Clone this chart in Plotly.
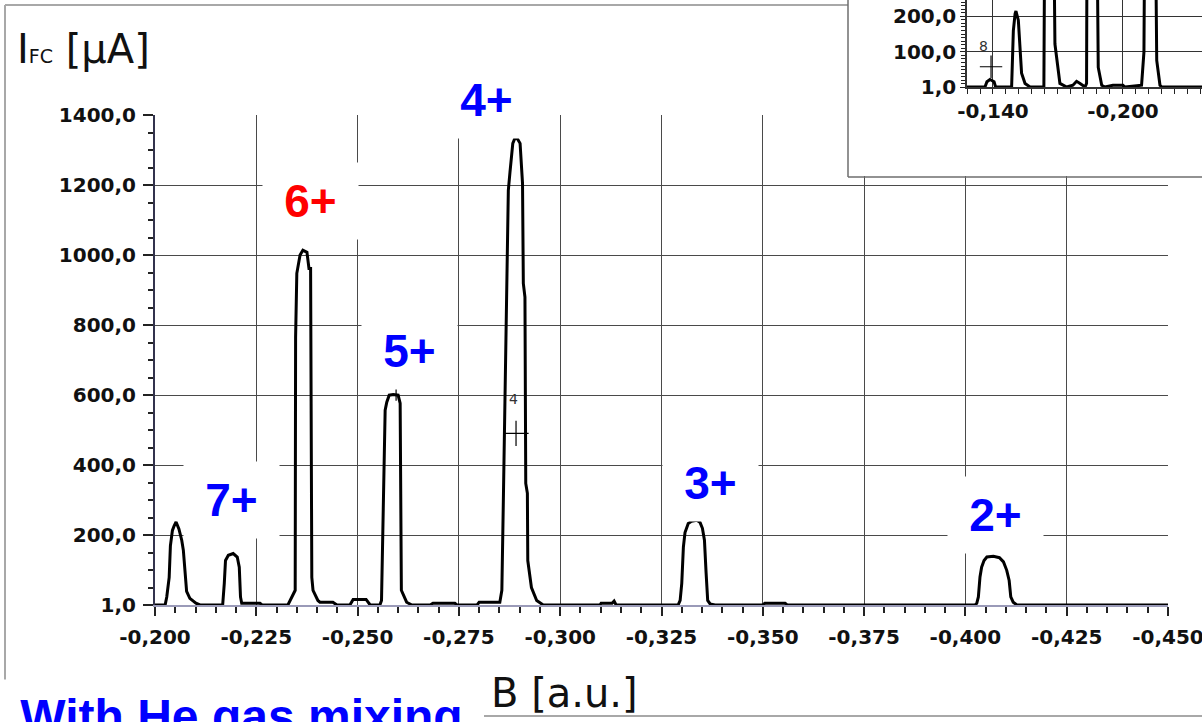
import plotly.graph_objects as go

W, H = 1202, 722

# ---------------- data: main spectrum (with He gas mixing) ----------------
B_main = [-0.2000, -0.2025, -0.2029, -0.2035, -0.2038, -0.2043, -0.2047, -0.2052, -0.2059, -0.2066,
          -0.2070, -0.2073, -0.2078, -0.2086, -0.2101, -0.2111, -0.2167, -0.2171, -0.2174, -0.2181,
          -0.2193, -0.2203, -0.2208, -0.2211, -0.2214, -0.2259, -0.2264, -0.2328, -0.2338, -0.2346,
          -0.2347, -0.2350, -0.2358, -0.2365, -0.2375, -0.2380, -0.2384, -0.2385, -0.2387, -0.2390,
          -0.2402, -0.2407, -0.2439, -0.2449, -0.2481, -0.2489, -0.2521, -0.2531, -0.2555, -0.2559,
          -0.2561, -0.2564, -0.2568, -0.2572, -0.2578, -0.2588, -0.2600, -0.2605, -0.2606, -0.2607,
          -0.2608, -0.2621, -0.2634, -0.2679, -0.2686, -0.2740, -0.2745, -0.2795, -0.2800, -0.2851,
          -0.2856, -0.2860, -0.2864, -0.2868, -0.2872, -0.2876, -0.2883, -0.2888, -0.2894, -0.2901,
          -0.2907, -0.2909, -0.2913, -0.2915, -0.2919, -0.2920, -0.2929, -0.2942, -0.2958, -0.3098,
          -0.3101, -0.3128, -0.3133, -0.3138, -0.3291, -0.3296, -0.3300, -0.3304, -0.3308, -0.3316,
          -0.3324, -0.3337, -0.3345, -0.3351, -0.3356, -0.3360, -0.3364, -0.3370, -0.3382, -0.3500,
          -0.3505, -0.3555, -0.3560, -0.4024, -0.4028, -0.4032, -0.4036, -0.4040, -0.4046, -0.4053,
          -0.4069, -0.4084, -0.4094, -0.4102, -0.4108, -0.4112, -0.4118, -0.4127, -0.4500]
I_main = [1, 1, 24, 80, 170, 214, 226, 238, 218, 186,
          157, 100, 40, 20, 6, 1, 1, 63, 128, 143,
          148, 138, 109, 24, 6, 6, 1, 1, 23, 43,
          765, 948, 1000, 1014, 1008, 962, 962, 451, 80, 43,
          14, 9, 9, 1, 1, 17, 17, 1, 1, 14,
          157, 300, 557, 580, 600, 602, 600, 577, 291, 285,
          43, 9, 1, 1, 6, 6, 1, 1, 9, 9,
          43, 320, 605, 891, 1185, 1236, 1319, 1333, 1333, 1319,
          1205, 919, 880, 348, 320, 128, 51, 14, 1, 1,
          6, 6, 12, 1, 1, 14, 63, 166, 208, 234,
          240, 243, 237, 220, 186, 94, 14, 4, 1, 1,
          6, 6, 1, 1, 6, 24, 81, 109, 128, 138,
          140, 136, 124, 100, 71, 24, 9, 1, 1]

# ---------------- data: inset spectrum ----------------
B_inset = [-0.1280, -0.1363, -0.1372, -0.1386, -0.1405, -0.1412, -0.1486, -0.1494, -0.1502, -0.1506,
           -0.1517, -0.1525, -0.1532, -0.1548, -0.1571, -0.1635, -0.1640, -0.1678, -0.1686, -0.1709,
           -0.1740, -0.1769, -0.1786, -0.1802, -0.1825, -0.1832, -0.1835, -0.1878, -0.1886, -0.1902,
           -0.1917, -0.1954, -0.2000, -0.2009, -0.2086, -0.2097, -0.2102, -0.2148, -0.2156, -0.2171,
           -0.2179, -0.2365]
I_inset = [1, 1, 16, 22, 16, 1, 1, 160, 207, 215,
           189, 96, 40, 11, 1, 1, 600, 600, 122, 11,
           1, 6, 17, 11, 1, 11, 600, 600, 56, 6,
           1, 6, 6, 1, 6, 100, 600, 600, 76, 6,
           1, 1]

# cursor markers
cursor_B = [-0.2595, -0.2891]
cursor_I = [620, 491]
inset_cursor_B = [-0.1391]
inset_cursor_I = [58]

# ticks
x_tick_vals = [-0.200, -0.225, -0.250, -0.275, -0.300, -0.325, -0.350, -0.375, -0.400, -0.425, -0.450]
x_tick_text = ["-0,200", "-0,225", "-0,250", "-0,275", "-0,300", "-0,325", "-0,350", "-0,375",
               "-0,400", "-0,425", "-0,450"]
y_tick_vals = [1, 200, 400, 600, 800, 1000, 1200, 1400]
y_tick_text = ["1,0", "200,0", "400,0", "600,0", "800,0", "1000,0", "1200,0", "1400,0"]
inset_x_tick_vals = [-0.140, -0.200]
inset_x_tick_text = ["-0,140", "-0,200"]
inset_y_tick_vals = [1, 100, 200]
inset_y_tick_text = ["1,0", "100,0", "200,0"]

ion_labels = ["7+", "6+", "5+", "4+", "3+", "2+"]
ion_colors = ["#0000ff", "#ff0000", "#0000ff", "#0000ff", "#0000ff", "#0000ff"]
ion_label_centers_px = [(231, 500), (310, 201), (410, 351), (487, 100), (710, 483), (995, 515)]


def px(x):
    return x / W


def py(y):
    return 1 - y / H


fig = go.Figure()
fig.add_trace(go.Scatter(x=B_main, y=I_main, mode="lines", line=dict(color="black", width=3),
                         xaxis="x", yaxis="y", showlegend=False, hoverinfo="skip"))
fig.add_trace(go.Scatter(x=cursor_B, y=cursor_I, mode="markers",
                         marker=dict(symbol="cross-thin", size=18, line=dict(color="black", width=1.2)),
                         xaxis="x", yaxis="y", showlegend=False, hoverinfo="skip"))
# empty trace creating the white panel of the inset frame (covers main grid)
fig.add_trace(go.Scatter(x=[None], y=[None], mode="lines", xaxis="x2", yaxis="y2",
                         showlegend=False, hoverinfo="skip"))
fig.add_trace(go.Scatter(x=B_inset, y=I_inset, mode="lines", line=dict(color="black", width=3),
                         xaxis="x3", yaxis="y3", showlegend=False, hoverinfo="skip"))
fig.add_trace(go.Scatter(x=inset_cursor_B, y=inset_cursor_I, mode="markers",
                         marker=dict(symbol="cross-thin", size=16, line=dict(color="black", width=1.2)),
                         xaxis="x3", yaxis="y3", showlegend=False, hoverinfo="skip"))

tickfont = dict(family="DejaVu Sans", size=20, color="#111111", weight="bold")
grid_col = "#4a4a4a"
hidden = dict(showgrid=False, showline=False, showticklabels=False, ticks="", zeroline=False,
              fixedrange=True, automargin=False)

fig.update_layout(
    width=W, height=H,
    margin=dict(l=0, r=0, t=0, b=0, pad=0, autoexpand=False),
    paper_bgcolor="white", plot_bgcolor="white",
    xaxis=dict(domain=[px(155), px(1168)], range=[-0.2, -0.45], anchor="y", automargin=False,
               tickmode="array", tickvals=x_tick_vals, ticktext=x_tick_text,
               ticklabeloverflow="allow",
               showgrid=True, gridcolor=grid_col, gridwidth=1,
               showline=True, linecolor="#9a9ab8", linewidth=2,
               ticks="outside", ticklen=9, tickcolor="#222222", tickwidth=1.5,
               ticklabelstandoff=4,
               minor=dict(dtick=0.005, tick0=-0.2, ticks="outside", ticklen=6,
                          tickcolor="#222222", tickwidth=1.5, showgrid=False),
               tickfont=tickfont, zeroline=False),
    yaxis=dict(domain=[py(605), py(115)], range=[1, 1400], anchor="x", automargin=False,
               tickmode="array", tickvals=y_tick_vals, ticktext=y_tick_text,
               ticklabeloverflow="allow",
               showgrid=True, gridcolor=grid_col, gridwidth=1,
               showline=True, linecolor="#33334d", linewidth=2,
               ticks="outside", ticklen=10, tickcolor="#222222", tickwidth=1.5,
               ticklabelstandoff=3,
               minor=dict(dtick=50, tick0=0, ticks="outside", ticklen=5,
                          tickcolor="#222222", tickwidth=1.5, showgrid=False),
               tickfont=tickfont, zeroline=False),
    xaxis2=dict(domain=[px(849), 1.0], range=[0, 1], anchor="y2", **hidden),
    yaxis2=dict(domain=[py(176), 1.0], range=[0, 1], anchor="x2", **hidden),
    xaxis3=dict(domain=[px(967), 1.0], range=[-0.128, -0.2365], anchor="y3", automargin=False,
                tickmode="array", tickvals=inset_x_tick_vals, ticktext=inset_x_tick_text,
                ticklabeloverflow="allow",
                showgrid=True, gridcolor="#333333", gridwidth=1,
                showline=True, linecolor="#333333", linewidth=1.5,
                ticks="outside", ticklen=5, tickcolor="#222222",
                minor=dict(dtick=0.006, tick0=-0.14, ticks="outside", ticklen=5,
                           tickcolor="#222222", showgrid=False),
                tickfont=tickfont, zeroline=False),
    yaxis3=dict(domain=[py(87), 1.0], range=[1, 246], anchor="x3", automargin=False,
                tickmode="array", tickvals=inset_y_tick_vals, ticktext=inset_y_tick_text,
                ticklabeloverflow="allow",
                showgrid=True, gridcolor="#333333", gridwidth=1,
                showline=True, linecolor="#333333", linewidth=1.5,
                ticks="outside", ticklen=5, tickcolor="#222222",
                minor=dict(dtick=10, tick0=0, ticks="outside", ticklen=4,
                           tickcolor="#222222", showgrid=False),
                tickfont=tickfont, zeroline=False),
)

shapes = []
frame_col = "#a8a8a8"
for (x0, y0, x1, y1) in [(5, 5, 848, 5), (5, 5, 5, 682), (484, 716, 1202, 716)]:
    shapes.append(dict(type="line", xref="paper", yref="paper", x0=px(x0), y0=py(y0),
                       x1=px(x1), y1=py(y1), line=dict(color=frame_col, width=2), layer="above"))
for (x0, y0, x1, y1) in [(848, 0, 848, 177), (848, 177, 1202, 177)]:
    shapes.append(dict(type="line", xref="paper", yref="paper", x0=px(x0), y0=py(y0),
                       x1=px(x1), y1=py(y1), line=dict(color="#6e6e6e", width=1.5), layer="above"))
fig.update_layout(shapes=shapes)

annotations = []
for lab, col, (cx, cy) in zip(ion_labels, ion_colors, ion_label_centers_px):
    annotations.append(dict(xref="paper", yref="paper", x=px(cx), y=py(cy), text=lab,
                            showarrow=False, xanchor="center", yanchor="middle",
                            font=dict(family="Liberation Sans", size=46, color=col, weight="bold"),
                            bgcolor="white", width=95, height=76, borderpad=0))
annotations.append(dict(xref="paper", yref="paper", x=px(241), y=py(716), text="With He gas mixing",
                        showarrow=False, xanchor="center", yanchor="middle",
                        font=dict(family="Liberation Sans", size=48, color="#0000ff", weight="bold"),
                        bgcolor="white", width=483, height=72, borderpad=0))
annotations.append(dict(xref="paper", yref="paper", x=px(15), y=py(49),
                        text="I<span style='font-size:19px'>FC</span> [µA]",
                        showarrow=False, xanchor="left", yanchor="middle",
                        font=dict(family="DejaVu Sans", size=40, color="#111111")))
annotations.append(dict(xref="paper", yref="paper", x=px(489), y=py(693), text="B [a.u.]",
                        showarrow=False, xanchor="left", yanchor="middle",
                        font=dict(family="DejaVu Sans", size=40, color="#111111")))
annotations.append(dict(xref="paper", yref="paper", x=px(513), y=py(399), text="4",
                        showarrow=False, xanchor="center", yanchor="middle",
                        font=dict(family="DejaVu Sans", size=14, color="#333333")))
annotations.append(dict(xref="paper", yref="paper", x=px(983), y=py(46), text="8",
                        showarrow=False, xanchor="center", yanchor="middle",
                        font=dict(family="DejaVu Sans", size=14, color="#333333")))
fig.update_layout(annotations=annotations)

fig.write_html("out.html")
